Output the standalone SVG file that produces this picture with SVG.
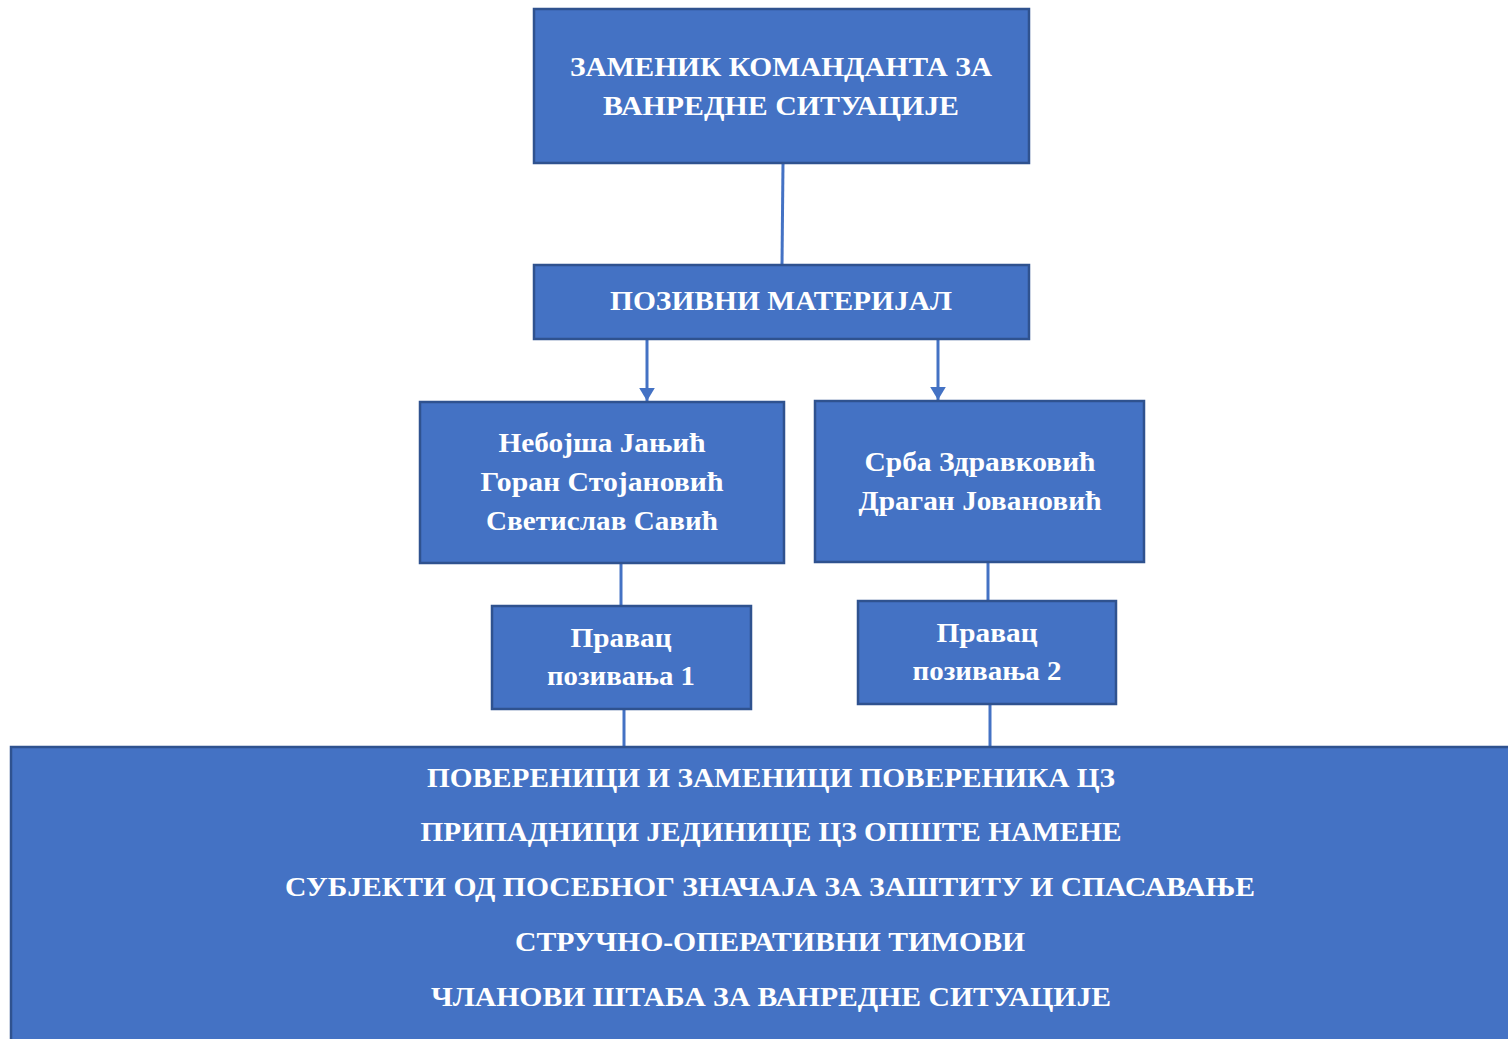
<svg xmlns="http://www.w3.org/2000/svg" width="1508" height="1039" viewBox="0 0 1508 1039">
<style>
.box{fill:#4472C4;stroke:#2F528F;stroke-width:2.5}
.t{fill:#FFFFFF;font-family:"Liberation Serif","Times New Roman",serif;font-weight:bold;text-anchor:middle}
.c{stroke:#4472C4;stroke-width:3;fill:none}
</style>
<defs>
<marker id="ah" viewBox="0 0 10 12" refX="10" refY="6" markerWidth="4.5" markerHeight="5.4" markerUnits="strokeWidth" orient="auto">
<path d="M0,0 L10,6 L0,12 Z" fill="#4472C4"/>
</marker>
</defs>
<rect width="1508" height="1039" fill="#FFFFFF"/>
<g id="connectors">
<line class="c" x1="783" y1="163" x2="782" y2="265"/>
<line class="c" x1="647" y1="340" x2="647" y2="401" marker-end="url(#ah)"/>
<line class="c" x1="938" y1="340" x2="938" y2="400" marker-end="url(#ah)"/>
<line class="c" x1="621" y1="563" x2="621" y2="606"/>
<line class="c" x1="988" y1="562" x2="988" y2="601"/>
<line class="c" x1="624" y1="709" x2="624" y2="747"/>
<line class="c" x1="990" y1="704" x2="990" y2="747"/>
</g>
<g id="node-top">
<rect class="box" x="534" y="9" width="495" height="154"/>
<text class="t" x="781" y="76" font-size="28" textLength="422" lengthAdjust="spacingAndGlyphs">ЗАМЕНИК КОМАНДАНТА ЗА</text>
<text class="t" x="781" y="115" font-size="28" textLength="356" lengthAdjust="spacingAndGlyphs">ВАНРЕДНЕ СИТУАЦИЈЕ</text>
</g>
<g id="node-material">
<rect class="box" x="534" y="265" width="495" height="74"/>
<text class="t" x="781" y="310" font-size="28" textLength="342" lengthAdjust="spacingAndGlyphs">ПОЗИВНИ МАТЕРИЈАЛ</text>
</g>
<g id="node-names1">
<rect class="box" x="420" y="402" width="364" height="161"/>
<text class="t" x="602" y="452" font-size="28" textLength="207" lengthAdjust="spacingAndGlyphs">Небојша Јањић</text>
<text class="t" x="602" y="491" font-size="28" textLength="243" lengthAdjust="spacingAndGlyphs">Горан Стојановић</text>
<text class="t" x="602" y="530" font-size="28" textLength="232" lengthAdjust="spacingAndGlyphs">Светислав Савић</text>
</g>
<g id="node-names2">
<rect class="box" x="815" y="401" width="329" height="161"/>
<text class="t" x="980" y="471" font-size="28" textLength="231" lengthAdjust="spacingAndGlyphs">Срба Здравковић</text>
<text class="t" x="980" y="510" font-size="28" textLength="243" lengthAdjust="spacingAndGlyphs">Драган Јовановић</text>
</g>
<g id="node-pravac1">
<rect class="box" x="492" y="606" width="259" height="103"/>
<text class="t" x="621" y="647" font-size="28" textLength="101" lengthAdjust="spacingAndGlyphs">Правац</text>
<text class="t" x="621" y="685" font-size="28" textLength="148" lengthAdjust="spacingAndGlyphs">позивања 1</text>
</g>
<g id="node-pravac2">
<rect class="box" x="858" y="601" width="258" height="103"/>
<text class="t" x="987" y="642" font-size="28" textLength="101" lengthAdjust="spacingAndGlyphs">Правац</text>
<text class="t" x="987" y="680" font-size="28" textLength="149" lengthAdjust="spacingAndGlyphs">позивања 2</text>
</g>
<g id="node-bottom">
<rect class="box" x="11" y="747" width="1510" height="300"/>
<text class="t" x="771" y="787" font-size="27" textLength="688" lengthAdjust="spacingAndGlyphs">ПОВЕРЕНИЦИ И ЗАМЕНИЦИ ПОВЕРЕНИКА ЦЗ</text>
<text class="t" x="771" y="841" font-size="27" textLength="701" lengthAdjust="spacingAndGlyphs">ПРИПАДНИЦИ ЈЕДИНИЦЕ ЦЗ ОПШТЕ НАМЕНЕ</text>
<text class="t" x="770" y="896" font-size="27" textLength="970" lengthAdjust="spacingAndGlyphs">СУБЈЕКТИ ОД ПОСЕБНОГ ЗНАЧАЈА ЗА ЗАШТИТУ И СПАСАВАЊЕ</text>
<text class="t" x="770" y="951" font-size="27" textLength="510" lengthAdjust="spacingAndGlyphs">СТРУЧНО-ОПЕРАТИВНИ ТИМОВИ</text>
<text class="t" x="771" y="1006" font-size="27" textLength="680" lengthAdjust="spacingAndGlyphs">ЧЛАНОВИ ШТАБА ЗА ВАНРЕДНЕ СИТУАЦИЈЕ</text>
</g>
</svg>
